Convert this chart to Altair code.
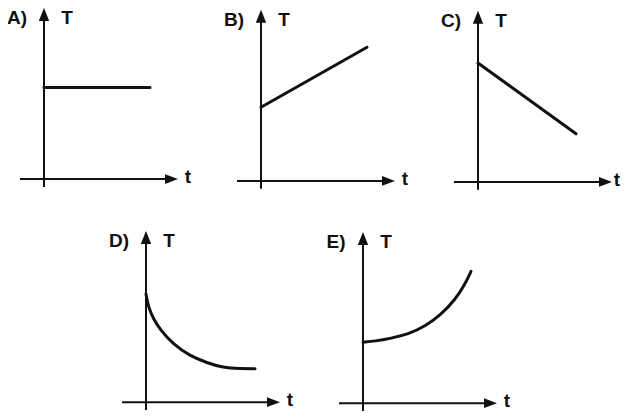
import altair as alt
import pandas as pd

# ---- data (panel-local units: t to the right, T upward, in px of the sketch) ----
letters = ["A)", "B)", "C)", "D)", "E)"]
y_label = "T"
x_label = "t"

curve_t = {
    "A)": [0, 106],
    "B)": [0, 106],
    "C)": [0, 98],
    "D)": [0, 2.3, 7.3, 14, 27, 44, 61, 77, 94, 109],
    "E)": [0, 12, 28, 45, 62, 78, 92, 102, 108],
}
curve_T = {
    "A)": [93, 93],
    "B)": [75, 136],
    "C)": [121, 49],
    "D)": [110, 97, 85, 74, 59, 47, 40, 35, 34, 34],
    "E)": [62, 63, 66, 70, 78, 90, 105, 121, 134],
}

# ---- layout (page position of each panel's origin, label offsets) ----
origin_x = [44, 261, 478, 146, 363]
origin_y = [180, 182, 183, 407, 408]
t_label_dx = [144, 144, 139, 144, 144]
Y_UP, Y_DOWN, X_LEFT, X_RIGHT, HEAD = 174, 8, 24, 134, 13
INK = "#111111"
FONT = "Liberation Sans"

panels = pd.DataFrame({"panel": letters, "ox": origin_x, "oy": origin_y, "tdx": t_label_dx})

rows = []
for p, ox, oy in zip(letters, origin_x, origin_y):
    for i, (t, T) in enumerate(zip(curve_t[p], curve_T[p])):
        rows.append({"panel": p, "i": i, "px": ox + t, "py": oy - T})
curves = pd.DataFrame(rows)

xs = alt.Scale(domain=[8, 621], nice=False, zero=False)
ys = alt.Scale(domain=[6, 416], nice=False, zero=False, reverse=True)

base = alt.Chart(panels)

x_axis = base.transform_calculate(
    xa="datum.ox - %d" % X_LEFT, xb="datum.ox + %d" % (X_RIGHT - HEAD // 2)
).mark_rule(strokeWidth=2, color=INK).encode(
    x=alt.X("xa:Q", scale=xs, axis=None), x2="xb:Q", y=alt.Y("oy:Q", scale=ys, axis=None)
)
y_axis = base.transform_calculate(
    ya="datum.oy + %d" % Y_DOWN, yb="datum.oy - %d" % (Y_UP - HEAD // 2)
).mark_rule(strokeWidth=2, color=INK).encode(
    x=alt.X("ox:Q", scale=xs, axis=None), y=alt.Y("ya:Q", scale=ys, axis=None), y2="yb:Q"
)
up_head = base.transform_calculate(
    hy="datum.oy - %f" % (Y_UP - HEAD / 2)
).mark_point(
    shape="M0,-1L-0.8,1L0.8,1Z", filled=True, size=HEAD * HEAD, color=INK, opacity=1, strokeWidth=0
).encode(x=alt.X("ox:Q", scale=xs, axis=None), y=alt.Y("hy:Q", scale=ys, axis=None))
right_head = base.transform_calculate(
    hx="datum.ox + %f" % (X_RIGHT - HEAD / 2)
).mark_point(
    shape="M1,0L-1,-0.75L-1,0.75Z", filled=True, size=HEAD * HEAD, color=INK, opacity=1, strokeWidth=0
).encode(x=alt.X("hx:Q", scale=xs, axis=None), y=alt.Y("oy:Q", scale=ys, axis=None))

lines = alt.Chart(curves).mark_line(
    strokeWidth=3, color=INK, interpolate="basis", strokeCap="round"
).encode(
    x=alt.X("px:Q", scale=xs, axis=None),
    y=alt.Y("py:Q", scale=ys, axis=None),
    detail="panel:N",
    order="i:Q",
)

txt = dict(fontSize=19, fontWeight="bold", font=FONT, color=INK, align="center", baseline="middle")
letter_text = base.transform_calculate(
    lx="datum.ox - 27", ly="datum.oy - 164"
).mark_text(**txt).encode(
    x=alt.X("lx:Q", scale=xs, axis=None), y=alt.Y("ly:Q", scale=ys, axis=None), text="panel:N"
)
T_text = base.transform_calculate(
    lx="datum.ox + 23", ly="datum.oy - 164", lab="'%s'" % y_label
).mark_text(**txt).encode(
    x=alt.X("lx:Q", scale=xs, axis=None), y=alt.Y("ly:Q", scale=ys, axis=None), text="lab:N"
)
t_text = base.transform_calculate(
    lx="datum.ox + datum.tdx", ly="datum.oy - 2", lab="'%s'" % x_label
).mark_text(**txt).encode(
    x=alt.X("lx:Q", scale=xs, axis=None), y=alt.Y("ly:Q", scale=ys, axis=None), text="lab:N"
)

chart = alt.layer(
    x_axis, y_axis, up_head, right_head, lines, letter_text, T_text, t_text
).properties(
    width=613, height=403, padding=0, autosize=alt.AutoSizeParams(type="none"), background="white"
).configure_view(stroke=None)

chart.save("out.html", embed_options={"renderer": "svg", "actions": False})
